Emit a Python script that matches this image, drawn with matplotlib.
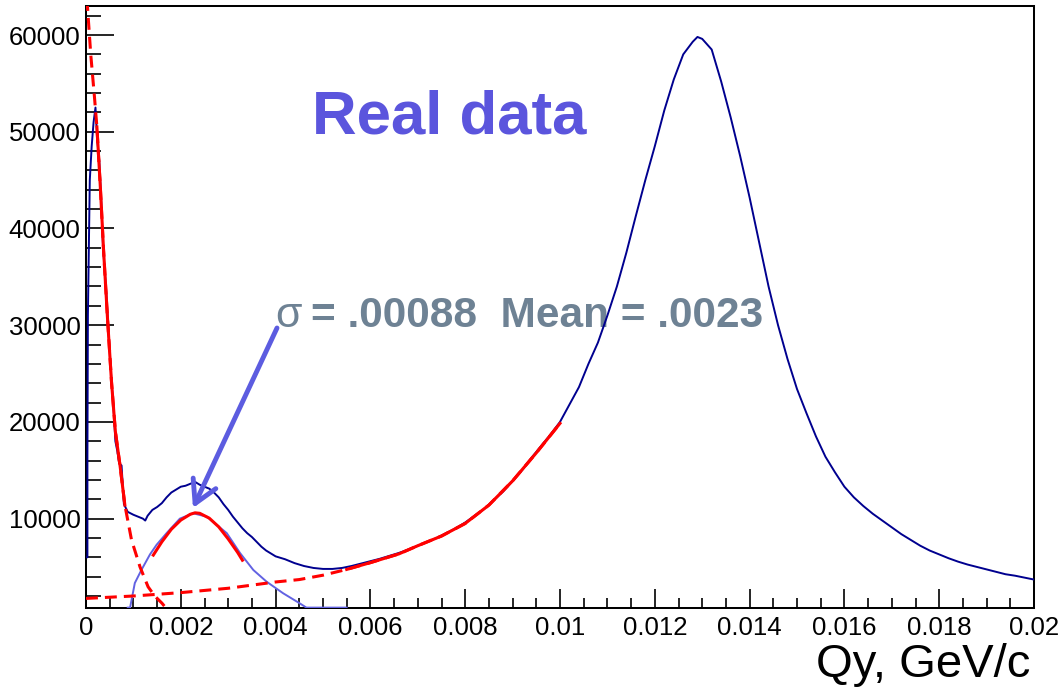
import matplotlib
matplotlib.use('Agg')
import matplotlib.pyplot as plt
import numpy as np
from matplotlib.ticker import MultipleLocator

plt.rcParams['font.family'] = ['Liberation Sans', 'DejaVu Sans']

# measured histogram (dark blue), Qy in GeV/c
qy_data = [0.0, 0.00003, 0.00003, 0.00004, 0.00008, 0.00012, 0.00016, 0.0002, 0.00024,
           0.00028, 0.00032, 0.00036, 0.00042, 0.00048, 0.00054, 0.00058, 0.00062,
           0.00066, 0.0007, 0.00075, 0.0008, 0.00088, 0.001, 0.0011, 0.0012, 0.00125,
           0.0013, 0.0014, 0.0015, 0.0016, 0.0017, 0.0018, 0.0019, 0.002, 0.0021,
           0.0022, 0.0023, 0.0024, 0.0025, 0.0026, 0.0027, 0.0028, 0.0029, 0.003,
           0.0031, 0.0032, 0.0033, 0.0034, 0.0035, 0.0036, 0.0037, 0.0038, 0.004,
           0.0042, 0.0044, 0.0046, 0.0048, 0.005, 0.0052, 0.0054, 0.0056, 0.0058,
           0.006, 0.0062, 0.0064, 0.0066, 0.0068, 0.007, 0.0072, 0.0074, 0.0076,
           0.0078, 0.008, 0.0082, 0.0084, 0.0086, 0.0088, 0.009, 0.0092, 0.0094,
           0.0096, 0.0098, 0.01, 0.0102, 0.0104, 0.0106, 0.0108, 0.011, 0.0112,
           0.0114, 0.0116, 0.0118, 0.012, 0.0122, 0.0124, 0.0126, 0.0128, 0.0129,
           0.013, 0.0132, 0.0134, 0.0136, 0.0138, 0.014, 0.0142, 0.0144, 0.0146,
           0.0148, 0.015, 0.0152, 0.0154, 0.0156, 0.0158, 0.016, 0.0162, 0.0164,
           0.0166, 0.0168, 0.017, 0.0172, 0.0174, 0.0176, 0.0178, 0.018, 0.0182,
           0.0184, 0.0186, 0.0188, 0.019, 0.0192, 0.0194, 0.0196, 0.0198, 0.02]
counts_data = [6000, 6000, 16500, 31000, 45000, 48500, 51000, 52500, 49000,
               47000, 43000, 38000, 34000, 29000, 24000, 21500, 18000,
               17000, 15700, 15500, 11500, 10700, 10400, 10200, 10000, 9800,
               10300, 10900, 11200, 11600, 12200, 12700, 13000, 13300, 13400,
               13600, 13800, 13500, 13300, 13100, 12700, 12200, 11500, 10900,
               10200, 9600, 9000, 8500, 8100, 7600, 7100, 6700, 6100,
               5800, 5400, 5100, 4900, 4800, 4800, 4900, 5100, 5350,
               5600, 5850, 6150, 6450, 6800, 7200, 7600, 8000, 8500,
               9000, 9600, 10300, 11000, 11900, 12800, 13900, 15000, 16300,
               17500, 18700, 20000, 21800, 23600, 26000, 28200, 31000, 34000,
               37500, 41300, 45000, 48500, 52200, 55400, 58000, 59300, 59800,
               59600, 58500, 55200, 51500, 47500, 43200, 38600, 34000, 30000,
               26500, 23400, 20900, 18500, 16400, 14800, 13300, 12200, 11300,
               10500, 9800, 9100, 8400, 7800, 7200, 6700, 6300, 5900,
               5550, 5250, 5000, 4750, 4500, 4250, 4100, 3900, 3700]

# background-subtracted signal histogram (light blue)
qy_sig = [0.00088, 0.00093, 0.00103, 0.00117, 0.00135, 0.00149, 0.0017, 0.00198,
          0.00226, 0.00255, 0.00297, 0.00325, 0.00353, 0.00381, 0.00416, 0.00451,
          0.00465, 0.0055]
counts_sig = [800, 800, 3340, 4700, 6300, 7300, 8500, 10000,
              10550, 10200, 8500, 6440, 4690, 3480, 2280, 1240,
              800, 800]

# exponential fit near zero
qy_exp = [0.0, 0.00003, 0.0001, 0.00018, 0.00023, 0.0003, 0.00037, 0.00045, 0.00054,
          0.00062, 0.00072, 0.00082, 0.00096, 0.00114, 0.00131, 0.00145, 0.0016, 0.00168]
exp_fit = [65500, 63000, 58000, 53500, 50500, 44500, 37800, 31000, 24000,
           19000, 15400, 11400, 7800, 5000, 2950, 2000, 1270, 800]

# background fit
qy_bg = [0.0, 0.001, 0.002, 0.003, 0.004, 0.0045, 0.005, 0.0055, 0.006, 0.0066,
         0.007, 0.0075, 0.008, 0.0085, 0.009, 0.0095, 0.01]
bg_fit = [1750, 2000, 2350, 2800, 3450, 3700, 4150, 4750, 5450, 6350,
          7200, 8200, 9500, 11400, 13900, 16800, 19850]

# gaussian fit
qy_gaus = [0.00142, 0.0016, 0.0018, 0.002, 0.0022, 0.0023, 0.0024, 0.0026, 0.0028,
           0.003, 0.0032, 0.0033]
gaus_fit = [6230, 7600, 8900, 9850, 10450, 10600, 10550, 10050, 9150, 7900, 6500, 5700]

xtick_vals = [0, 0.002, 0.004, 0.006, 0.008, 0.01, 0.012, 0.014, 0.016, 0.018, 0.02]
xtick_labels = ['0', '0.002', '0.004', '0.006', '0.008', '0.01', '0.012', '0.014',
                '0.016', '0.018', '0.02']
ytick_vals = [10000, 20000, 30000, 40000, 50000, 60000]
ytick_labels = ['10000', '20000', '30000', '40000', '50000', '60000']

W, H = 1062, 689
fig = plt.figure(figsize=(W / 100, H / 100), dpi=100)
ax = fig.add_axes([86 / W, 81 / H, 948 / W, 602 / H])

dark = '#00008f'
light = '#6262e2'
red = '#ff0000'
dash = (3.9, 2.3)

ax.plot(qy_data, counts_data, color=dark, lw=1.4, zorder=3)
ax.plot(qy_sig, counts_sig, color=light, lw=1.4, zorder=3)

qe = np.array(qy_exp); ye = np.array(exp_fit)
ax.plot(qe, ye, color=red, lw=2.2, dashes=dash, zorder=4)
m = (qe >= 0.00023) & (qe <= 0.00082)
ax.plot(qe[m], ye[m], color=red, lw=2.2, zorder=4)

qb = np.array(qy_bg); yb = np.array(bg_fit)
ax.plot(qb, yb, color=red, lw=2.2, dashes=dash, zorder=4)
m = qb >= 0.0055
ax.plot(qb[m], yb[m], color=red, lw=2.2, zorder=4)

ax.plot(qy_gaus, gaus_fit, color=red, lw=2.2, zorder=4)

ax.set_xlim(0, 0.02)
ax.set_ylim(760, 63000)
ax.set_xticks(xtick_vals)
ax.set_xticklabels(xtick_labels)
ax.set_yticks(ytick_vals)
ax.set_yticklabels(ytick_labels)
ax.xaxis.set_minor_locator(MultipleLocator(0.0005))
ax.yaxis.set_minor_locator(MultipleLocator(2000))
ax.tick_params(axis='both', which='both', direction='in', width=1.2, labelsize=18.5,
               top=False, right=False)
ax.tick_params(axis='x', which='major', length=13.7, pad=6)
ax.tick_params(axis='x', which='minor', length=7)
ax.tick_params(axis='y', which='major', length=20, pad=4)
ax.tick_params(axis='y', which='minor', length=10.6)
for s in ax.spines.values():
    s.set_linewidth(1.45)

# annotations
ax.text(312 / W, (H - 133) / H, 'Real data', transform=fig.transFigure, fontsize=44.5,
        fontweight='bold', color='#5b55dd', va='baseline', zorder=1)
ax.text(275 / W, (H - 327) / H, 'σ', transform=fig.transFigure, fontsize=31,
        color='#6e8294', va='baseline', zorder=1)
ax.text(311 / W, (H - 327) / H, '= .00088  Mean = .0023', transform=fig.transFigure,
        fontsize=30.5, fontweight='bold', color='#6e8294', va='baseline', zorder=1)
ax.annotate('', xy=(193, H - 508), xycoords='figure pixels',
            xytext=(277, H - 328), textcoords='figure pixels',
            arrowprops=dict(arrowstyle='->,head_length=0.8,head_width=0.45', lw=3.5,
                            color='#5c5ce0', mutation_scale=20, shrinkA=0, shrinkB=0),
            zorder=5)

fig.text(1030 / W, 12 / H, 'Qy, GeV/c', ha='right', va='baseline', fontsize=34)

fig.savefig('out.png', dpi=100)
